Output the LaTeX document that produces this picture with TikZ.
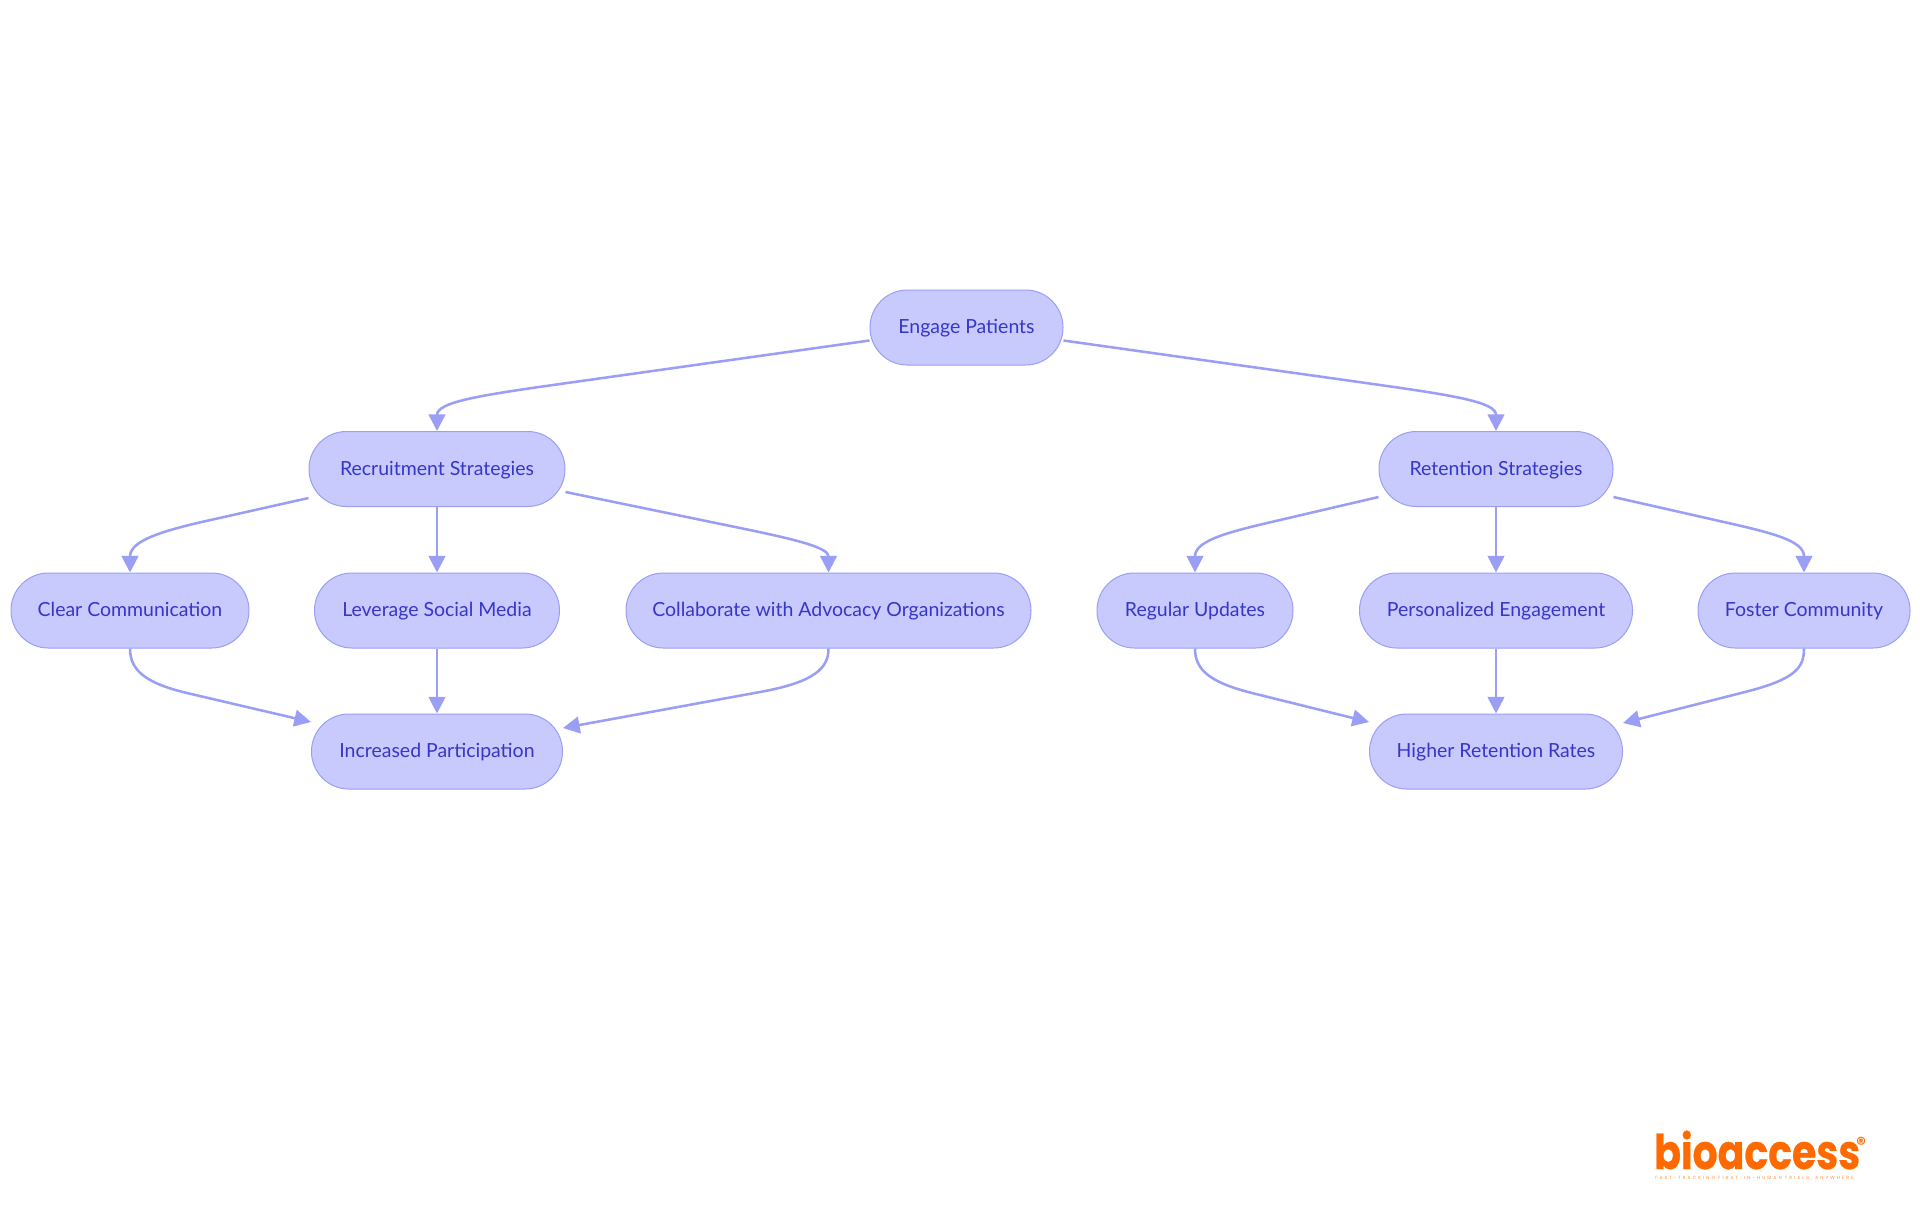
\documentclass[tikz,border=0pt]{standalone}
\usepackage{fontspec}
\setmainfont{Lato}
\newfontfamily\logofont[FakeStretch=0.82,FakeBold=0.5]{Poppins}
\newfontfamily\tagfont[LetterSpace=45]{Poppins}
\usetikzlibrary{arrows.meta,calc}
\definecolor{pillfill}{HTML}{C8CAFE}
\definecolor{pillline}{HTML}{9A9EF5}
\definecolor{pilltext}{HTML}{3636C9}
\definecolor{logoorange}{HTML}{FF6A00}
\tikzset{
    pill/.style={draw=pillline,fill=pillfill,text=pilltext,line width=0.75pt,rounded corners=28pt,minimum height=56.25pt,inner sep=0pt,text height=11.2pt,text depth=1.9pt,font=\fontsize{14.6}{17}\selectfont},
    link/.style={draw=pillline,line width=1.9pt,-{Triangle[length=12.5pt,width=12.5pt]}},
    logotag/.style={anchor=base west,inner sep=0pt,text depth=0pt,text=logoorange}
}
\begin{document}
\begin{tikzpicture}[x=0.75pt,y=-0.75pt]
        \useasboundingbox (0,0) rectangle (1920,1215);
        \node[pill,minimum width=144.75pt] (engage) at (966.5,327.5) {Engage Patients};
        \node[pill,minimum width=192pt] (recruit) at (437,469) {Recruitment Strategies};
        \node[pill,minimum width=175.5pt] (retain) at (1496,469) {Retention Strategies};
        \node[pill,minimum width=178.5pt] (clear) at (130,610.5) {Clear Communication};
        \node[pill,minimum width=183.75pt] (social) at (437,610.5) {Leverage Social Media};
        \node[pill,minimum width=303.75pt] (advocacy) at (828.5,610.5) {Collaborate with Advocacy Organizations};
        \node[pill,minimum width=147pt] (updates) at (1195,610.5) {Regular Updates};
        \node[pill,minimum width=204.75pt] (personal) at (1496,610.5) {Personalized Engagement};
        \node[pill,minimum width=159pt] (community) at (1804,610.5) {Foster Community};
        \node[pill,minimum width=188.25pt] (participation) at (437,751.5) {Increased Participation};
        \node[pill,minimum width=189.75pt] (rates) at (1496,751.5) {Higher Retention Rates};

        \draw[link] ($(engage.west)+(0,13)$) -- (560,384) .. controls (480,395.3) and (437,402) .. (recruit.north);
        \draw[link] ($(engage.east)+(0,13)$) -- (1373,384) .. controls (1453,395.3) and (1496,402) .. (retain.north);

        \draw[link] ($(recruit.west)+(0,29)$) -- (215,519) .. controls (165,530) and (130,540) .. (clear.north);
        \draw[link] (recruit) -- (social);
        \draw[link] ($(recruit.east)+(0,23)$) -- (745,529) .. controls (800,540.4) and (828.5,548) .. (advocacy.north);

        \draw[link] ($(retain.west)+(0,28)$) -- (1280,520) .. controls (1230,531.6) and (1195,540) .. (updates.north);
        \draw[link] (retain) -- (personal);
        \draw[link] ($(retain.east)+(0,28)$) -- (1715,520) .. controls (1770,532.4) and (1804,540) .. (community.north);

        \draw[link] (clear.south) .. controls (130,670) and (145,683) .. (187,693) -- ($(participation.west)+(0,-29.5)$);
        \draw[link] (social) -- (participation);
        \draw[link] (advocacy.south) .. controls (828.5,668) and (815,682) .. (760,692) -- ($(participation.east)+(0,-23.5)$);

        \draw[link] (updates.south) .. controls (1195,670) and (1210,682.4) .. (1252,693) -- ($(rates.west)+(0,-29.5)$);
        \draw[link] (personal) -- (rates);
        \draw[link] (community.south) .. controls (1804,668) and (1795,679.3) .. (1745,692) -- ($(rates.east)+(0,-28.5)$);

        \node[logotag,font=\logofont\bfseries\fontsize{36}{37}\selectfont] (brand) at (1654,1169) {bioaccess};
        \node[logotag,font=\tagfont\bfseries\fontsize{14}{15}\selectfont] (mark) at (1856,1150) {®};
        \node[logotag,font=\tagfont\fontsize{3.4}{4}\selectfont,text=logoorange!75] (tagline) at (1655,1179) {FAST-TRACKING FIRST-IN-HUMAN TRIALS, ANYWHERE};
\end{tikzpicture}
\end{document}
